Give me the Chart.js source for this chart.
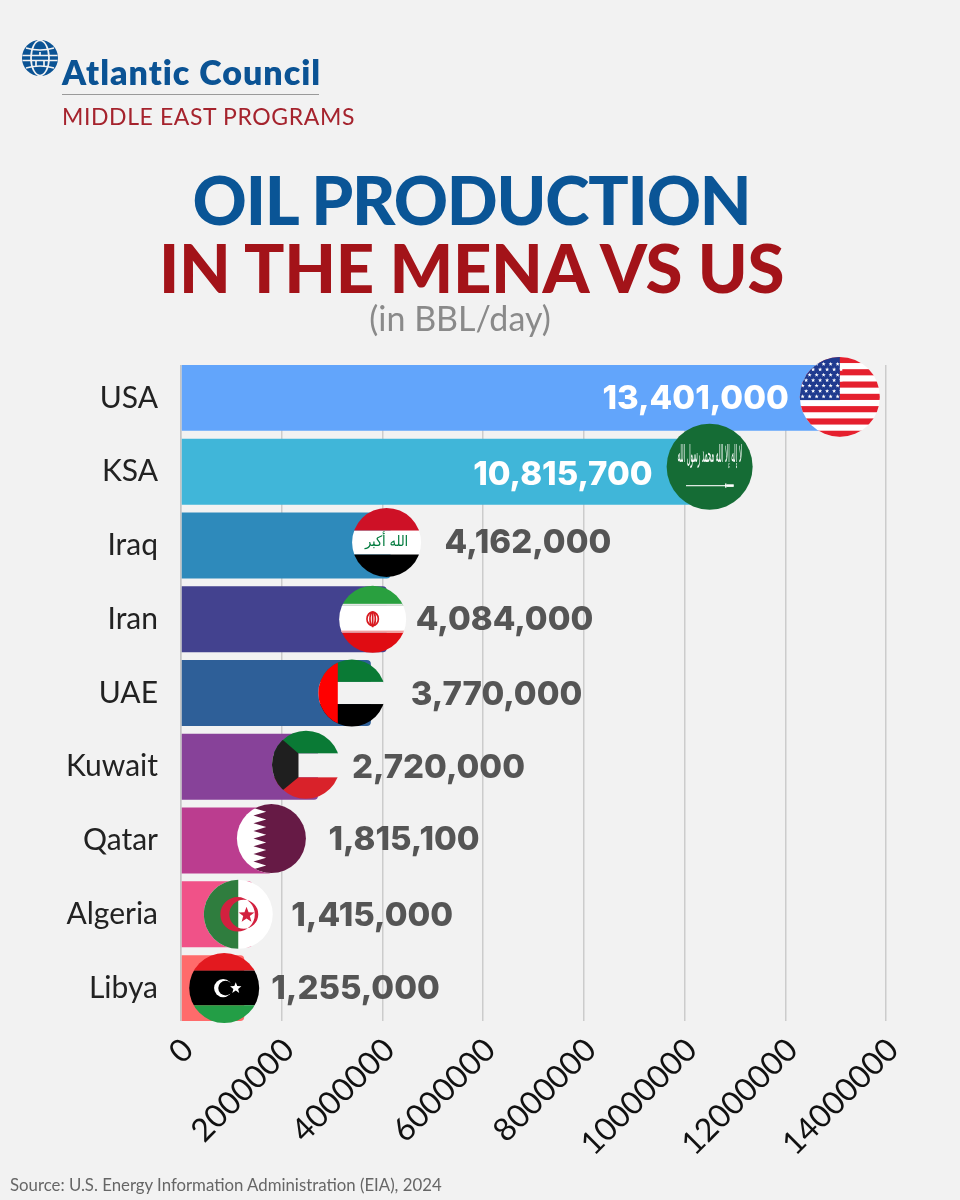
<!DOCTYPE html>
<html>
<head>
<meta charset="utf-8">
<script src="https://cdn.jsdelivr.net/npm/chart.js@4"></script>
<style>
  html, body { margin: 0; padding: 0; background: #f2f2f2; }
  #page { position: relative; width: 960px; height: 1200px; overflow: hidden; background: #f2f2f2; font-family: Lato, sans-serif; }
  #myChart { position: absolute; left: 0; top: 0; }
  .txt { position: absolute; white-space: nowrap; }
  #brand { left: 62px; top: 50px; font: 800 34px/44px Lato, sans-serif; color: #0b5394; letter-spacing: 1px; }
  #rule { position: absolute; left: 62px; top: 94px; width: 257px; height: 1px; background: #9a9a9a; }
  #program { left: 62px; top: 100px; font: 400 23px/32px Lato, sans-serif; color: #a5232d; letter-spacing: .6px; }
  .title { left: 0; width: 943px; text-align: center; font: 900 67px/80px Lato, sans-serif; }
  #title1 { top: 159px; color: #0a5596; letter-spacing: -1.2px; }
  #title2 { top: 227px; color: #a31319; letter-spacing: -.3px; }
  #unit { left: 0; width: 920px; text-align: center; top: 296px; font: 400 34px/44px Lato, sans-serif; color: #8a8a8a; }
  #source { left: 10px; top: 1175px; font: 400 16.8px/20px Lato, sans-serif; color: #666; }
</style>
</head>
<body>
<div id="page">
  <canvas id="myChart" width="960" height="1200"></canvas>
  <svg style="position:absolute;left:22px;top:40px" width="36" height="36" viewBox="-18 -18 36 36">
    <circle r="18" fill="#0b5394"/>
    <g fill="none" stroke="#f2f2f2" stroke-width="1.7">
      <ellipse rx="9" ry="17.5"/>
      <path d="M-14-10Q0-6 14-10M-17.5-2.5H17.5M-17.5 2.5H17.5M-14 10Q0 6 14 10M0-6V-2.5M-4 2.5V9M4 2.5V9"/>
    </g>
  </svg>
  <div class="txt" id="brand">Atlantic Council</div>
  <div id="rule"></div>
  <div class="txt" id="program">MIDDLE EAST PROGRAMS</div>
  <div class="txt title" id="title1">OIL PRODUCTION</div>
  <div class="txt title" id="title2">IN THE MENA VS US</div>
  <div class="txt" id="unit">(in BBL/day)</div>
  <div class="txt" id="source">Source: U.S. Energy Information Administration (EIA), 2024</div>
</div>

<script>
// data
const categories = ['USA', 'KSA', 'Iraq', 'Iran', 'UAE', 'Kuwait', 'Qatar', 'Algeria', 'Libya'];
const production = [13401000, 10815700, 4162000, 4084000, 3770000, 2720000, 1815100, 1415000, 1255000];
const xTickLabels = ['0', '2000000', '4000000', '6000000', '8000000', '10000000', '12000000', '14000000'];
const barColors = ['#62a5fb', '#40b6d9', '#2e8abb', '#43428f', '#2e5f98', '#874299', '#bb3d8f', '#f05288', '#ff6b6b'];

// flag and label placement, as pixels relative to the bar end and bar middle
const flagOffset = [-16, -16, -4, -14, -19, -12, -1, -14, -20];
const flagLift = [-1, -5, -3, 0, 0, -2, -2, 0, 0];
const flagRadius = [40, 43, 34.5, 33.5, 33.5, 34, 34.5, 34.5, 35];
const labelOffset = [-67, -73, 54, 29, 40, 34, 56, 39, 27];
const labelLift = [1, 3, -2, 1, 2, 1, 0, 2, 1];
const labelInside = [true, true, false, false, false, false, false, false, false];

const BG = '#f2f2f2';

function stripes(c, list) {
  list.forEach(s => { c.fillStyle = s[0]; c.fillRect(-1.1, s[1], 2.2, s[2] - s[1]); });
}

function star(c, x, y, r, color) {
  c.fillStyle = color;
  c.beginPath();
  for (let i = 0; i < 10; i++) {
    const a = -Math.PI / 2 + i * Math.PI / 5;
    const d = i % 2 ? r * 0.42 : r;
    c.lineTo(x + d * Math.cos(a), y + d * Math.sin(a));
  }
  c.closePath();
  c.fill();
}

function crescent(c, x, y, r, inner, shift, color, back) {
  c.fillStyle = color;
  c.beginPath(); c.arc(x, y, r, 0, Math.PI * 2); c.fill();
  c.fillStyle = back;
  c.beginPath(); c.arc(x + shift, y, inner, 0, Math.PI * 2); c.fill();
}

// every flag is drawn in a unit circle
const flags = [
  function usa(c) {
    c.fillStyle = '#fff'; c.fillRect(-1.1, -1.1, 2.2, 2.2);
    for (let i = 0; i < 7; i++) {
      c.fillStyle = '#e5202e';
      c.fillRect(-1.1, -1 + i * 2 * 0.1538, 2.2, 0.1538);
    }
    c.fillStyle = '#1f3a8f'; c.fillRect(-1.1, -1.1, 1.1, 1.18);
    for (let row = 0; row < 7; row++) {
      for (let col = 0; col < 6; col++) {
        star(c, -0.93 + col * 0.175 + (row % 2 ? 0.087 : 0), -0.82 + row * 0.135, 0.055, '#fff');
      }
    }
  },
  function ksa(c) {
    c.fillStyle = '#156c35'; c.fillRect(-1.1, -1.1, 2.2, 2.2);
    c.fillStyle = '#fff';
    c.textAlign = 'center'; c.textBaseline = 'middle';
    c.font = '0.56px "DejaVu Sans"';
    c.fillText('لا إله إلا الله محمد رسول الله', 0, -0.24, 1.5);
    c.fillRect(-0.55, 0.43, 1.1, 0.025);
    c.fillRect(0.36, 0.39, 0.03, 0.1);
    c.fillRect(0.39, 0.41, 0.17, 0.06);
  },
  function iraq(c) {
    stripes(c, [['#ce1126', -1.1, -0.34], ['#fff', -0.34, 0.35], ['#000', 0.35, 1.1]]);
    c.fillStyle = '#007a3d';
    c.textAlign = 'center'; c.textBaseline = 'middle';
    c.font = '0.42px "DejaVu Sans"';
    c.fillText('الله أكبر', 0, 0, 1.25);
  },
  function iran(c) {
    stripes(c, [['#29a03f', -1.1, -0.4], ['#fff', -0.4, 0.4], ['#e00c12', 0.4, 1.1]]);
    c.fillStyle = '#e8e8e8'; c.fillRect(-1.1, -0.46, 2.2, 0.06);
    c.fillStyle = '#f1a0a0'; c.fillRect(-1.1, 0.34, 2.2, 0.06);
    c.strokeStyle = '#d81a20'; c.lineWidth = 0.05;
    [0.08, 0.17].forEach(w => {
      c.beginPath(); c.ellipse(0, -0.01, w, 0.2, 0, 0, Math.PI * 2); c.stroke();
    });
    c.beginPath(); c.moveTo(0, -0.22); c.lineTo(0, 0.24); c.stroke();
  },
  function uae(c) {
    stripes(c, [['#0a7a35', -1.1, -0.33], [BG, -0.33, 0.33], ['#000', 0.33, 1.1]]);
    c.fillStyle = '#ff0000'; c.fillRect(-1.1, -1.1, 0.68, 2.2);
  },
  function kuwait(c) {
    stripes(c, [['#0a7a35', -1.1, -0.33], [BG, -0.33, 0.37], ['#d9222a', 0.37, 1.1]]);
    c.fillStyle = '#1f1f1f';
    c.beginPath();
    c.moveTo(-1.05, -1.05); c.lineTo(-0.22, -0.33); c.lineTo(-0.22, 0.37); c.lineTo(-1.05, 1.05);
    c.closePath(); c.fill();
  },
  function qatar(c) {
    c.fillStyle = '#fff'; c.fillRect(-1.1, -1.1, 2.2, 2.2);
    c.fillStyle = '#661a45';
    c.beginPath();
    c.moveTo(1.1, -1.1); c.lineTo(-0.15, -1.1);
    for (let i = 0; i < 9; i++) {
      const h = 2 / 9;
      c.lineTo(-0.52, -1 + i * h + h / 2);
      c.lineTo(-0.15, -1 + (i + 1) * h);
    }
    c.lineTo(-0.15, 1.1); c.lineTo(1.1, 1.1);
    c.closePath(); c.fill();
  },
  function algeria(c) {
    c.fillStyle = '#fff'; c.fillRect(-1.1, -1.1, 2.2, 2.2);
    c.fillStyle = '#2f7d3e'; c.fillRect(-1.1, -1.1, 1.1, 2.2);
    c.fillStyle = '#d2213f';
    c.beginPath();
    c.arc(-0.02, 0, 0.5, 0, Math.PI * 2);
    c.arc(0.16, 0, 0.42, 0, Math.PI * 2, true);
    c.fill();
    star(c, 0.24, 0.02, 0.24, '#d2213f');
  },
  function libya(c) {
    stripes(c, [['#e3191f', -1.1, -0.5], ['#000', -0.5, 0.49], ['#239e46', 0.49, 1.1]]);
    crescent(c, -0.03, 0, 0.26, 0.21, 0.07, '#fff', '#000');
    star(c, 0.33, 0, 0.17, '#fff');
  }
];

const trimGridPlugin = {
  id: 'trimGrid',
  beforeDatasetsDraw(chart) {
    // the grid of the original runs only from the first bar top to the last bar bottom
    const a = chart.chartArea;
    const c = chart.ctx;
    c.save();
    c.fillStyle = BG;
    c.fillRect(a.left - 2, a.top - 2, a.width + 4, 6);
    c.fillRect(a.left - 2, a.bottom - 4, a.width + 4, 6);
    c.restore();
  }
};

const flagsPlugin = {
  id: 'flagsAndValues',
  afterDatasetsDraw(chart) {
    const c = chart.ctx;
    const x = chart.scales.x;
    const y = chart.scales.y;
    production.forEach((v, i) => {
      const end = x.getPixelForValue(v);
      const mid = y.getPixelForValue(i);
      const r = flagRadius[i];
      c.save();
      c.translate(end + flagOffset[i], mid + flagLift[i]);
      c.scale(r, r);
      c.beginPath(); c.arc(0, 0, 1, 0, Math.PI * 2); c.clip();
      flags[i](c);
      c.restore();

      c.save();
      c.font = '800 33px Inter, sans-serif';
      c.textBaseline = 'middle';
      c.textAlign = labelInside[i] ? 'right' : 'left';
      c.fillStyle = labelInside[i] ? '#ffffff' : '#555555';
      c.fillText(v.toLocaleString('en-US'), end + labelOffset[i], mid + labelLift[i]);
      c.restore();
    });
  }
};

const ctx = document.getElementById('myChart');

const myChart = new Chart(ctx, {
  type: 'bar',
  data: {
    labels: categories,
    datasets: [{
      label: 'Oil production (BBL/day)',
      data: production,
      backgroundColor: barColors,
      borderRadius: { topRight: 4, bottomRight: 4, topLeft: 0, bottomLeft: 0 },
      borderSkipped: false,
      barPercentage: 1,
      categoryPercentage: 0.894
    }]
  },
  options: {
    indexAxis: 'y',
    responsive: false,
    animation: false,
    layout: { autoPadding: false, padding: { top: 361, right: 74, left: 0, bottom: 0 } },
    plugins: { legend: { display: false }, tooltip: { enabled: false } },
    scales: {
      x: {
        min: 0,
        max: 14000000,
        afterBuildTicks(scale) {
          scale.ticks = xTickLabels.map(t => ({ value: Number(t) }));
        },
        afterFit(scale) { scale.height = 175; },
        grid: { color: '#cccccc', lineWidth: 1.5, drawTicks: false },
        border: { color: '#cccccc', width: 1.5 },
        ticks: {
          autoSkip: false,
          minRotation: 45,
          maxRotation: 45,
          padding: 6,
          labelOffset: 7,
          color: '#111111',
          font: { family: 'Lato, sans-serif', size: 32, weight: 400 },
          callback: (value, index) => xTickLabels[index]
        }
      },
      y: {
        afterFit(scale) { scale.width = 181; },
        grid: { display: false, drawTicks: false },
        border: { color: '#c4c4c4', width: 1.5 },
        ticks: {
          padding: 23,
          color: '#222222',
          font: { family: 'Lato, sans-serif', size: 30, weight: 400 }
        }
      }
    }
  },
  plugins: [trimGridPlugin, flagsPlugin]
});
</script>
</body>
</html>
